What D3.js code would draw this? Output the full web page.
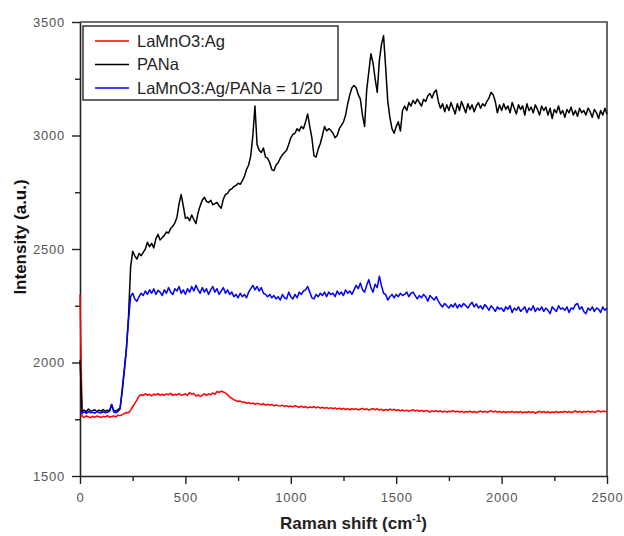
<!DOCTYPE html>
<html>
<head>
<meta charset="utf-8">
<script src="https://cdn.jsdelivr.net/npm/d3@7"></script>
<style>
  body { margin: 0; background: #fff; }
  text { font-family: "Liberation Sans", Arial, sans-serif; }
</style>
</head>
<body>
<div id="chart"></div>
<script>
// Raman spectra, sampled every 10 cm-1 from 0 to 2500
const shift = d3.range(0, 2501, 10);

const lamno3 = [
  2300, 1762, 1758, 1765, 1760, 1757, 1763, 1759, 1764, 1761,
  1758, 1763, 1760, 1766, 1759, 1762, 1765, 1760, 1768, 1766,
  1770, 1775, 1780, 1779, 1790, 1805, 1820, 1835, 1852, 1858,
  1855, 1862, 1856, 1860, 1853, 1861, 1857, 1863, 1855, 1860,
  1856, 1862, 1858, 1864, 1855, 1860, 1857, 1863, 1856, 1858,
  1862, 1855, 1868, 1860, 1864, 1852, 1858, 1850, 1856, 1862,
  1855, 1862, 1858, 1866, 1860, 1872, 1868, 1874, 1870, 1866,
  1858, 1848, 1842, 1836, 1832, 1828, 1830, 1824, 1826, 1820,
  1824, 1818, 1822, 1816, 1820, 1818, 1814, 1819, 1812, 1816,
  1812, 1815, 1809, 1813, 1810, 1808, 1812, 1806, 1810, 1805,
  1808, 1804, 1810, 1806, 1803, 1808, 1802, 1806, 1800, 1804,
  1802, 1806, 1800, 1804, 1799, 1803, 1798, 1802, 1797, 1801,
  1796, 1800, 1795, 1799, 1794, 1798, 1793, 1797, 1792, 1796,
  1793, 1797, 1791, 1795, 1798, 1792, 1796, 1790, 1794, 1797,
  1792, 1796, 1790, 1794, 1788, 1793, 1789, 1795, 1790, 1794,
  1788, 1792, 1787, 1791, 1786, 1790, 1785, 1789, 1792, 1786,
  1790, 1785, 1789, 1784, 1788, 1786, 1782, 1787, 1784, 1788,
  1783, 1787, 1782, 1786, 1781, 1785, 1783, 1788, 1782, 1786,
  1781, 1785, 1780, 1784, 1782, 1786, 1780, 1784, 1779, 1783,
  1786, 1781, 1785, 1780, 1784, 1788, 1782, 1786, 1781, 1785,
  1780, 1784, 1779, 1783, 1781, 1785, 1779, 1783, 1780, 1784,
  1778, 1782, 1780, 1784, 1779, 1783, 1777, 1781, 1785, 1780,
  1784, 1779, 1783, 1778, 1782, 1780, 1784, 1779, 1783, 1781,
  1785, 1780, 1784, 1779, 1783, 1787, 1781, 1785, 1780, 1784,
  1782, 1786, 1781, 1785, 1780, 1784, 1788, 1782, 1786, 1784,
  1785
];

const pana = [
  2010, 1785, 1790, 1783, 1795, 1786, 1788, 1792, 1784, 1790,
  1786, 1793, 1785, 1790, 1787, 1815, 1789, 1786, 1792, 1800,
  1870, 1960, 2060, 2200, 2420, 2490, 2470, 2455, 2480, 2470,
  2485, 2500, 2530, 2510, 2525, 2505, 2545, 2565, 2540, 2550,
  2560, 2575, 2570, 2590, 2600, 2615, 2640, 2700, 2740, 2690,
  2635, 2640, 2625, 2650, 2630, 2612, 2660, 2690, 2715, 2728,
  2710, 2705, 2715, 2695, 2700, 2705, 2690, 2680, 2720, 2740,
  2745, 2760, 2765, 2775, 2780, 2790, 2785, 2800, 2820, 2850,
  2870, 2910, 3000, 3130, 2960, 2935, 2925, 2945, 2905, 2900,
  2880, 2850, 2845, 2870, 2880, 2900, 2915, 2925, 2935, 2960,
  2990, 3005, 3010, 3030, 3020, 3040, 3030, 3060, 3095, 3040,
  2990, 2910, 2905, 2940, 2965, 3000, 3040, 3020, 3030, 3022,
  3010, 2990, 3000, 3030, 3045, 3060, 3090, 3140, 3180, 3210,
  3220, 3210, 3180, 3160, 3090, 3040, 3200, 3280, 3360, 3320,
  3250, 3190, 3330, 3400, 3440, 3300, 3150, 3080, 3030, 3010,
  3040, 3060, 3020, 3110, 3130, 3110, 3145, 3130, 3155, 3140,
  3160, 3145, 3130, 3160, 3150, 3175, 3185, 3165, 3190, 3200,
  3150, 3120, 3140, 3105, 3135, 3110, 3145, 3120, 3095, 3140,
  3110, 3150, 3125, 3100, 3140, 3115, 3135, 3105, 3130, 3145,
  3120, 3140, 3130, 3150, 3165, 3190, 3180, 3150, 3100, 3135,
  3110, 3140, 3115, 3130, 3100, 3145, 3120, 3095, 3135, 3115,
  3130, 3090, 3140, 3110, 3125, 3100, 3135, 3115, 3090, 3130,
  3110, 3125, 3090, 3120, 3075, 3115, 3100, 3130, 3095, 3110,
  3080, 3115, 3100, 3125, 3090, 3110, 3085, 3120, 3100, 3110,
  3090, 3120, 3105, 3080, 3115, 3100, 3075, 3110, 3090, 3120,
  3095
];

const composite = [
  1780, 1778, 1782, 1776, 1783, 1779, 1781, 1777, 1784, 1780,
  1778, 1783, 1779, 1781, 1785, 1815, 1782, 1779, 1784, 1795,
  1880, 1970, 2060, 2185, 2290, 2305, 2280, 2270, 2290, 2305,
  2295, 2315, 2300, 2320, 2305, 2325, 2300, 2318, 2310, 2295,
  2320, 2305, 2330, 2310, 2300, 2325, 2315, 2335, 2305, 2320,
  2300, 2325, 2310, 2335, 2315, 2340, 2320, 2305, 2330, 2310,
  2325, 2300, 2320, 2335, 2310, 2325, 2300, 2315, 2330, 2305,
  2320, 2300, 2310, 2290, 2300, 2285, 2305, 2290, 2300, 2285,
  2310, 2325, 2340, 2320, 2335, 2315, 2330, 2305, 2300, 2290,
  2300, 2285, 2295, 2280, 2290, 2275, 2300, 2285, 2280, 2310,
  2290, 2280, 2300, 2285, 2310, 2300, 2315, 2320, 2335, 2310,
  2285, 2280, 2300, 2290, 2305, 2295, 2310, 2290, 2310, 2300,
  2305, 2290, 2315, 2300, 2310, 2295, 2320, 2305, 2315, 2300,
  2320, 2340, 2325, 2350, 2320, 2310, 2340, 2365, 2330, 2310,
  2345, 2330, 2380, 2340, 2305, 2300, 2275, 2290, 2300, 2285,
  2300, 2290, 2305, 2295, 2300, 2310, 2290, 2305, 2310, 2295,
  2280, 2295, 2285, 2300, 2290, 2270, 2295, 2285, 2275, 2290,
  2270, 2255, 2245, 2260, 2250, 2240, 2255, 2245, 2260, 2240,
  2255, 2245, 2260, 2250, 2240, 2255, 2265, 2245, 2258, 2240,
  2250, 2235, 2255, 2245, 2230, 2250, 2240, 2225, 2245, 2235,
  2240, 2225, 2245, 2235, 2250, 2220, 2240, 2230, 2245, 2225,
  2235, 2245, 2220, 2240, 2230, 2250, 2225, 2240, 2230, 2245,
  2225, 2240, 2230, 2215, 2245, 2235, 2225, 2250, 2235, 2240,
  2230, 2245, 2220, 2240, 2235, 2255, 2260, 2235, 2245, 2225,
  2215, 2240, 2230, 2245, 2225, 2240, 2235, 2220, 2245, 2230,
  2240
];

const seriesNames = ["LaMnO3:Ag", "PANa", "LaMnO3:Ag/PANa = 1/20"];
const seriesColors = ["#ff0000", "#000000", "#0000ff"];
const xTicks = [0, 500, 1000, 1500, 2000, 2500];
const yTicks = [1500, 2000, 2500, 3000, 3500];

const margin = {top: 22, right: 17, bottom: 60, left: 80},
  width = 624 - margin.left - margin.right,
  height = 476 - margin.top;

const svg = d3.select("#chart")
  .append("svg")
  .attr("width", 624)
  .attr("height", 536)
  .append("g")
  .attr("transform", `translate(${margin.left}, ${margin.top})`);

const x = d3.scaleLinear().domain([0, 2500]).range([0, width]);
const y = d3.scaleLinear().domain([1500, 3500]).range([height, 0]);

// frame on top and right
svg.append("path")
  .attr("d", `M0,0H${width}V${height}`)
  .attr("fill", "none")
  .attr("stroke", "#444")
  .attr("stroke-width", 1.6);

// minor ticks
svg.append("g")
  .attr("transform", `translate(0, ${height})`)
  .call(d3.axisBottom(x).tickValues(d3.range(250, 2500, 500)).tickSize(5).tickFormat(""))
  .call(g => g.select(".domain").remove())
  .selectAll("line").attr("stroke", "#222").attr("stroke-width", 1.4);
svg.append("g")
  .call(d3.axisLeft(y).tickValues(d3.range(1750, 3500, 500)).tickSize(5).tickFormat(""))
  .call(g => g.select(".domain").remove())
  .selectAll("line").attr("stroke", "#222").attr("stroke-width", 1.4);

// major axes
const xAxis = svg.append("g")
  .attr("transform", `translate(0, ${height})`)
  .call(d3.axisBottom(x).tickValues(xTicks).tickFormat(d3.format("d"))
    .tickSize(8).tickSizeOuter(0).tickPadding(9));
const yAxis = svg.append("g")
  .call(d3.axisLeft(y).tickValues(yTicks).tickFormat(d3.format("d"))
    .tickSize(8).tickSizeOuter(0).tickPadding(7));

[xAxis, yAxis].forEach(a => {
  a.select(".domain").attr("stroke", "#222").attr("stroke-width", 1.6);
  a.selectAll(".tick line").attr("stroke", "#222").attr("stroke-width", 1.4);
  a.selectAll(".tick text")
    .attr("fill", "#555")
    .style("font-size", "13px")
    .style("letter-spacing", "0.8px")
    .style("font-family", "'Liberation Sans', Arial, sans-serif");
});

// spectra
const allSeries = [lamno3, pana, composite];
const line = d3.line()
  .x((d, i) => x(shift[i]))
  .y(d => y(d));

svg.append("g")
  .selectAll("path")
  .data(allSeries)
  .enter()
  .append("path")
    .attr("d", d => line(d))
    .attr("fill", "none")
    .attr("stroke", (d, i) => seriesColors[i])
    .attr("stroke-width", 1.5)
    .attr("stroke-linejoin", "round");

// legend
const legend = svg.append("g").attr("transform", "translate(3, 4)");
legend.append("rect")
  .attr("width", 255)
  .attr("height", 74)
  .attr("fill", "#fff")
  .attr("stroke", "#333")
  .attr("stroke-width", 1.5);
seriesNames.forEach((name, i) => {
  const ly = 15 + i * 23.5;
  legend.append("line")
    .attr("x1", 12).attr("x2", 46)
    .attr("y1", ly).attr("y2", ly)
    .attr("stroke", seriesColors[i])
    .attr("stroke-width", 1.5);
  legend.append("text")
    .attr("x", 54)
    .attr("y", ly)
    .attr("dy", "0.36em")
    .attr("fill", "#222")
    .style("font-size", "16.5px")
    .text(name);
});

// axis titles
svg.append("text")
  .attr("transform", `translate(${20 - margin.left}, ${height / 2 - 12}) rotate(-90)`)
  .attr("text-anchor", "middle")
  .attr("dy", "0.36em")
  .style("font-size", "17px")
  .style("font-weight", "bold")
  .attr("fill", "#111")
  .text("Intensity (a.u.)");

const xTitle = svg.append("text")
  .attr("x", width / 2 + 10)
  .attr("y", height + 53)
  .attr("text-anchor", "middle")
  .style("font-size", "17px")
  .style("font-weight", "bold")
  .attr("fill", "#222");
xTitle.append("tspan").text("Raman shift (cm");
xTitle.append("tspan").attr("dy", -7).style("font-size", "10px").text("-1");
xTitle.append("tspan").attr("dy", 7).text(")");
</script>
</body>
</html>
